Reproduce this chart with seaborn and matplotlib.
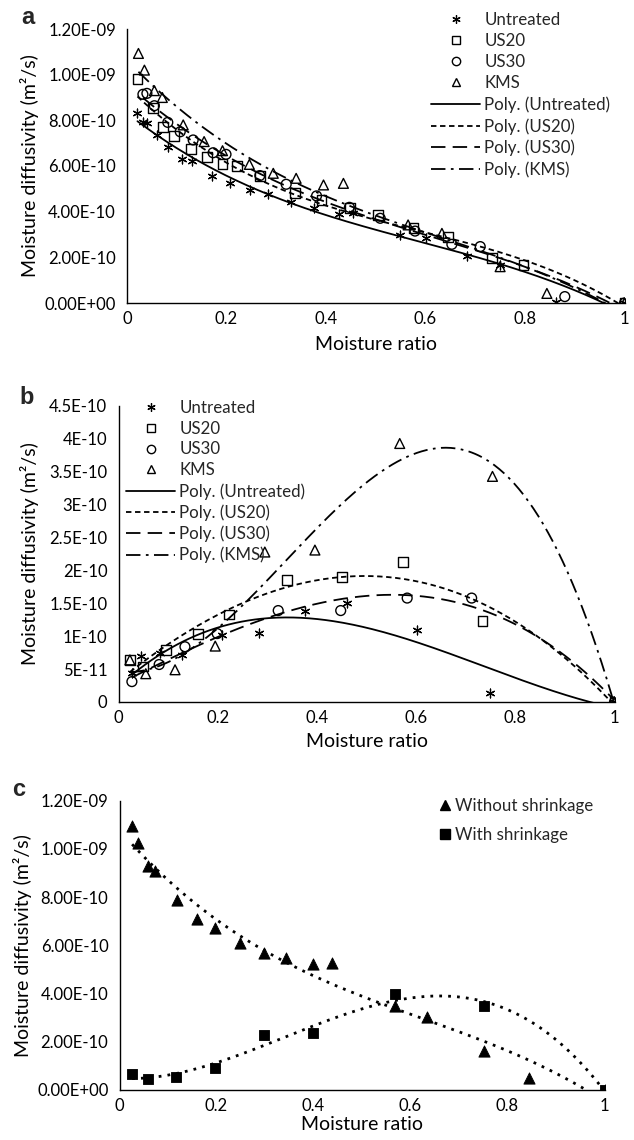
import numpy as np
import pandas as pd
import matplotlib
matplotlib.use("Agg")
import matplotlib.pyplot as plt
from matplotlib.lines import Line2D
import seaborn as sns

# ---------------- data ----------------
# Panel a
a_untr_x = [0.021, 0.033, 0.040, 0.060, 0.083, 0.110, 0.130, 0.171, 0.208, 0.247, 0.284, 0.330, 0.375,
            0.427, 0.455, 0.549, 0.601, 0.683, 0.750, 0.862, 1.0]
a_untr_y = [8.31e-10, 7.94e-10, 7.87e-10, 7.36e-10, 6.85e-10, 6.29e-10, 6.22e-10, 5.58e-10, 5.24e-10,
            4.95e-10, 4.76e-10, 4.44e-10, 4.15e-10, 3.88e-10, 3.95e-10, 2.98e-10, 2.83e-10, 2.06e-10,
            1.66e-10, 0.06e-10, 0.0]
a_us20_x = [0.021, 0.052, 0.073, 0.094, 0.129, 0.160, 0.192, 0.221, 0.267, 0.338, 0.391, 0.448, 0.505,
            0.576, 0.646, 0.733, 0.797, 1.0]
a_us20_y = [9.81e-10, 8.53e-10, 7.72e-10, 7.31e-10, 6.74e-10, 6.38e-10, 6.09e-10, 6.00e-10, 5.58e-10,
            4.83e-10, 4.51e-10, 4.15e-10, 3.85e-10, 3.27e-10, 2.88e-10, 1.96e-10, 1.66e-10, 0.0]
a_us30_x = [0.032, 0.040, 0.055, 0.082, 0.107, 0.133, 0.173, 0.199, 0.267, 0.320, 0.381, 0.447, 0.509,
            0.579, 0.653, 0.710, 0.880, 1.0]
a_us30_y = [9.14e-10, 9.18e-10, 8.64e-10, 7.91e-10, 7.50e-10, 7.14e-10, 6.58e-10, 6.51e-10, 5.58e-10,
            5.20e-10, 4.69e-10, 4.19e-10, 3.71e-10, 3.15e-10, 2.57e-10, 2.47e-10, 0.28e-10, 0.0]
a_kms_x = [0.023, 0.035, 0.055, 0.071, 0.113, 0.155, 0.192, 0.246, 0.294, 0.340, 0.395, 0.435, 0.565,
           0.633, 0.750, 0.844, 1.0]
a_kms_y = [1.093e-9, 1.020e-9, 9.30e-10, 9.00e-10, 7.80e-10, 7.07e-10, 6.67e-10, 6.07e-10, 5.68e-10,
           5.46e-10, 5.17e-10, 5.24e-10, 3.42e-10, 3.05e-10, 1.59e-10, 0.42e-10, 0.0]

# Panel b
b_untr_x = [0.027, 0.045, 0.084, 0.129, 0.208, 0.284, 0.377, 0.460, 0.602, 0.749, 1.0]
b_untr_y = [4.4e-11, 7.0e-11, 7.4e-11, 7.1e-11, 1.02e-10, 1.05e-10, 1.39e-10, 1.51e-10, 1.09e-10, 1.3e-11, 0.0]
b_us20_x = [0.023, 0.049, 0.096, 0.161, 0.222, 0.339, 0.450, 0.574, 0.734, 1.0]
b_us20_y = [6.4e-11, 5.4e-11, 7.9e-11, 1.04e-10, 1.33e-10, 1.85e-10, 1.90e-10, 2.13e-10, 1.23e-10, 0.0]
b_us30_x = [0.027, 0.082, 0.134, 0.199, 0.322, 0.448, 0.582, 0.712, 1.0]
b_us30_y = [3.1e-11, 5.7e-11, 8.4e-11, 1.04e-10, 1.39e-10, 1.39e-10, 1.58e-10, 1.58e-10, 0.0]
b_kms_x = [0.023, 0.055, 0.114, 0.195, 0.295, 0.396, 0.567, 0.754, 1.0]
b_kms_y = [6.4e-11, 4.3e-11, 4.9e-11, 8.5e-11, 2.28e-10, 2.31e-10, 3.93e-10, 3.43e-10, 0.0]

# Panel c (KMS without / with shrinkage)
c_wo_x = [0.026, 0.039, 0.059, 0.073, 0.118, 0.160, 0.197, 0.248, 0.298, 0.343, 0.398, 0.439, 0.569,
          0.635, 0.752, 0.844, 1.0]
c_wo_y = [1.096e-9, 1.026e-9, 9.30e-10, 9.08e-10, 7.88e-10, 7.08e-10, 6.73e-10, 6.08e-10, 5.70e-10,
          5.49e-10, 5.21e-10, 5.28e-10, 3.48e-10, 3.04e-10, 1.62e-10, 0.48e-10, 0.0]
c_w_x = [0.026, 0.059, 0.116, 0.197, 0.298, 0.398, 0.569, 0.752, 1.0]
c_w_y = [6.5e-11, 4.4e-11, 5.3e-11, 9.0e-11, 2.28e-10, 2.35e-10, 3.97e-10, 3.48e-10, 0.0]

x_ticks = [0, 0.2, 0.4, 0.6, 0.8, 1]
x_ticklabels = ["0", "0.2", "0.4", "0.6", "0.8", "1"]
ac_yticks = [0, 2e-10, 4e-10, 6e-10, 8e-10, 1e-9, 1.2e-9]
ac_yticklabels = ["0.00E+00", "2.00E-10", "4.00E-10", "6.00E-10", "8.00E-10", "1.00E-09", "1.20E-09"]
b_yticks = [0, 5e-11, 1e-10, 1.5e-10, 2e-10, 2.5e-10, 3e-10, 3.5e-10, 4e-10, 4.5e-10]
b_yticklabels = ["0", "5E-11", "1E-10", "1.5E-10", "2E-10", "2.5E-10", "3E-10", "3.5E-10", "4E-10", "4.5E-10"]

series_names = ["Untreated", "US20", "US30", "KMS"]
ylabel = "Moisture diffusivity (m²/s)"
xlabel = "Moisture ratio"

# ---------------- style ----------------
sns.set_style("white")
FONT = ["Lato", "DejaVu Sans"]
plt.rcParams["font.family"] = FONT
TICK_FS = 12
LAB_FS = 14
LEG_FS = 12.2

W, H = 634, 1140
fig = plt.figure(figsize=(W / 100, H / 100), dpi=100)


def pix_axes(l, r, t, b):
    return fig.add_axes([l / W, 1 - b / H, (r - l) / W, (b - t) / H])


ax_a = pix_axes(127, 624.5, 29, 303)
ax_b = pix_axes(118.5, 614.5, 406, 702)
ax_c = pix_axes(119.5, 604.5, 800.7, 1090)

marker_styles = {
    "Untreated": dict(marker=(6, 2, 0), s=40, color="black", linewidth=0.9),
    "US20": dict(marker="s", s=50, facecolor="none", edgecolor="black", linewidth=1.0),
    "US30": dict(marker="o", s=50, facecolor="none", edgecolor="black", linewidth=1.0),
    "KMS": dict(marker="^", s=50, facecolor="none", edgecolor="black", linewidth=1.0),
}
line_styles = {
    "Untreated": "-",
    "US20": (0, (3, 2)),
    "US30": (0, (8, 4)),
    "KMS": (0, (8, 3, 1.5, 3)),
}


def trend(ax, x, y, ls, deg=3, lw=1.3):
    x = np.asarray(x)
    y = np.asarray(y)
    c = np.polyfit(x, y, deg)
    xs = np.linspace(x.min(), x.max(), 300)
    df = pd.DataFrame({"x": xs, "y": np.polyval(c, xs)})
    sns.lineplot(data=df, x="x", y="y", ax=ax, color="black", linestyle=ls, linewidth=lw,
                 estimator=None, sort=True, legend=False)


def style_axes(ax, yticks, yticklabels, ymax, xlab_y, ylab_x):
    ax.set_xlim(0, 1)
    ax.set_ylim(0, ymax)
    ax.set_xticks(x_ticks)
    ax.set_xticklabels(x_ticklabels, fontsize=TICK_FS)
    ax.set_yticks(yticks)
    ax.set_yticklabels(yticklabels, fontsize=TICK_FS)
    for s in ["top", "right"]:
        ax.spines[s].set_visible(False)
    for s in ["left", "bottom"]:
        ax.spines[s].set_color("black")
        ax.spines[s].set_linewidth(1.0)
    ax.tick_params(axis="x", direction="in", length=5, width=1, pad=6, colors="black")
    ax.tick_params(axis="y", direction="out", length=5, width=1, pad=3, colors="black")
    ax.set_xlabel(xlabel, fontsize=LAB_FS, color="black")
    ax.set_ylabel(ylabel, fontsize=LAB_FS, color="black")
    ax.xaxis.set_label_coords(0.5, xlab_y)
    ax.yaxis.set_label_coords(ylab_x, 0.5)
    ax.grid(False)
    ax.set_facecolor("white")


def scatter(ax, x, y, name):
    kw = dict(marker_styles[name])
    sns.scatterplot(x=x, y=y, ax=ax, legend=False, zorder=3, **kw)


def legend_handles():
    hs = []
    for n in series_names:
        st = marker_styles[n]
        if n == "Untreated":
            hs.append(Line2D([], [], ls="none", marker=st["marker"], color="black", markersize=6, mew=0.9))
        else:
            hs.append(Line2D([], [], ls="none", marker=st["marker"], markerfacecolor="none",
                             markeredgecolor="black", markersize=6, mew=1.0))
    for n in series_names:
        hs.append(Line2D([], [], color="black", linestyle=line_styles[n], lw=1.3))
    labels = series_names + [f"Poly. ({n})" for n in series_names]
    return hs, labels


# ---------- panel a ----------
a_data = {"Untreated": (a_untr_x, a_untr_y), "US20": (a_us20_x, a_us20_y),
          "US30": (a_us30_x, a_us30_y), "KMS": (a_kms_x, a_kms_y)}
for n in series_names:
    trend(ax_a, *a_data[n], line_styles[n])
for n in series_names:
    scatter(ax_a, *a_data[n], n)
style_axes(ax_a, ac_yticks, ac_yticklabels, 1.2e-9, -0.122, -0.176)
hs, labs = legend_handles()
ax_a.legend(hs, labs, loc="upper left", bbox_to_anchor=(431 / W, 1 - 12 / H), bbox_transform=fig.transFigure,
            frameon=False, fontsize=LEG_FS, handlelength=2.9, handletextpad=0.25, labelspacing=0.3,
            borderpad=0, borderaxespad=0, numpoints=1)

# ---------- panel b ----------
b_data = {"Untreated": (b_untr_x, b_untr_y), "US20": (b_us20_x, b_us20_y),
          "US30": (b_us30_x, b_us30_y), "KMS": (b_kms_x, b_kms_y)}
for n in series_names:
    trend(ax_b, *b_data[n], line_styles[n])
for n in series_names:
    scatter(ax_b, *b_data[n], n)
style_axes(ax_b, b_yticks, b_yticklabels, 4.5e-10, -0.104, -0.16)
hs, labs = legend_handles()
ax_b.legend(hs, labs, loc="upper left", bbox_to_anchor=(126 / W, 1 - 400 / H), bbox_transform=fig.transFigure,
            frameon=False, fontsize=LEG_FS, handlelength=2.9, handletextpad=0.25, labelspacing=0.28,
            borderpad=0, borderaxespad=0, numpoints=1)

# ---------- panel c ----------
trend(ax_c, c_wo_x, c_wo_y, (0, (1, 2.2)), lw=2.0)
trend(ax_c, c_w_x, c_w_y, (0, (1, 2.2)), lw=2.0)
sns.scatterplot(x=c_wo_x, y=c_wo_y, ax=ax_c, marker="^", s=65, color="black", edgecolor="black",
                legend=False, zorder=3)
sns.scatterplot(x=c_w_x, y=c_w_y, ax=ax_c, marker="s", s=60, color="black", edgecolor="black",
                legend=False, zorder=3)
style_axes(ax_c, ac_yticks, ac_yticklabels, 1.2e-9, -0.09, -0.18)
hc = [Line2D([], [], ls="none", marker="^", color="black", markersize=7),
      Line2D([], [], ls="none", marker="s", color="black", markersize=6.5)]
ax_c.legend(hc, ["Without shrinkage", "With shrinkage"], loc="upper left",
            bbox_to_anchor=(438 / W, 1 - 798 / H), bbox_transform=fig.transFigure,
            frameon=False, fontsize=LEG_FS, handlelength=0.8, handletextpad=0.2, labelspacing=0.75,
            borderpad=0, borderaxespad=0, numpoints=1)

# panel letters
LET = dict(fontsize=17, fontweight="bold", ha="center", va="center", family=["Liberation Sans", "DejaVu Sans"])
fig.text(28 / W, 1 - 18 / H, "a", **LET)
fig.text(27 / W, 1 - 397 / H, "b", **LET)
fig.text(19 / W, 1 - 790 / H, "c", **LET)

fig.savefig("out.png", dpi=100, facecolor="white")
